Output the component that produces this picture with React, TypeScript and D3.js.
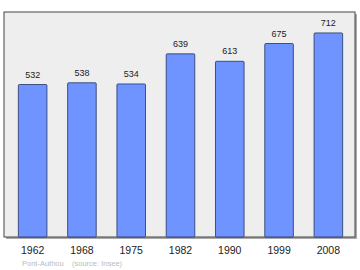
import React from "react";
import * as d3 from "d3";

const years = ["1962", "1968", "1975", "1982", "1990", "1999", "2008"];
const population = [532, 538, 534, 639, 613, 675, 712];
const sourceText = "Pont-Authou    (source: Insee)";

export default function App() {
  const W = 360, H = 270;
  const left = 4, right = 355, top = 12, bottom = 237;
  const x = d3.scaleBand<string>().domain(years).range([left + 4, right - 2]).paddingInner(0.42).paddingOuter(0.21);
  const y = d3.scaleLinear().domain([0, 785]).range([bottom, top]);
  return (
    <svg width={W} height={H} style={{ position: "absolute", left: 0, top: 0, fontFamily: "Liberation Sans, Arial, sans-serif" }}>
      <rect x={0} y={0} width={W} height={H} fill="#ffffff" />
      <rect x={left + 2} y={top + 2} width={right - left} height={bottom - top} fill="#aaaaaa" />
      <rect x={left} y={top} width={right - left} height={bottom - top} fill="#eeeeee" stroke="#444444" strokeWidth={1} />
      {years.map((yr, i) => (
        <g key={yr}>
          <rect x={x(yr)} y={y(population[i])} width={x.bandwidth()} height={bottom - y(population[i])} fill="#7094ff" stroke="#223366" strokeWidth={0.8} rx={1} />
          <text x={(x(yr) as number) + x.bandwidth() / 2} y={y(population[i]) - 7} textAnchor="middle" fontSize={9} fill="#222">{population[i]}</text>
          <text x={(x(yr) as number) + x.bandwidth() / 2} y={254} textAnchor="middle" fontSize={10.5} fill="#222">{yr}</text>
        </g>
      ))}
      <text x={22} y={266} fontSize={7.5} fill="#bbbbbb" style={{ whiteSpace: "pre" }}>{sourceText}</text>
    </svg>
  );
}
